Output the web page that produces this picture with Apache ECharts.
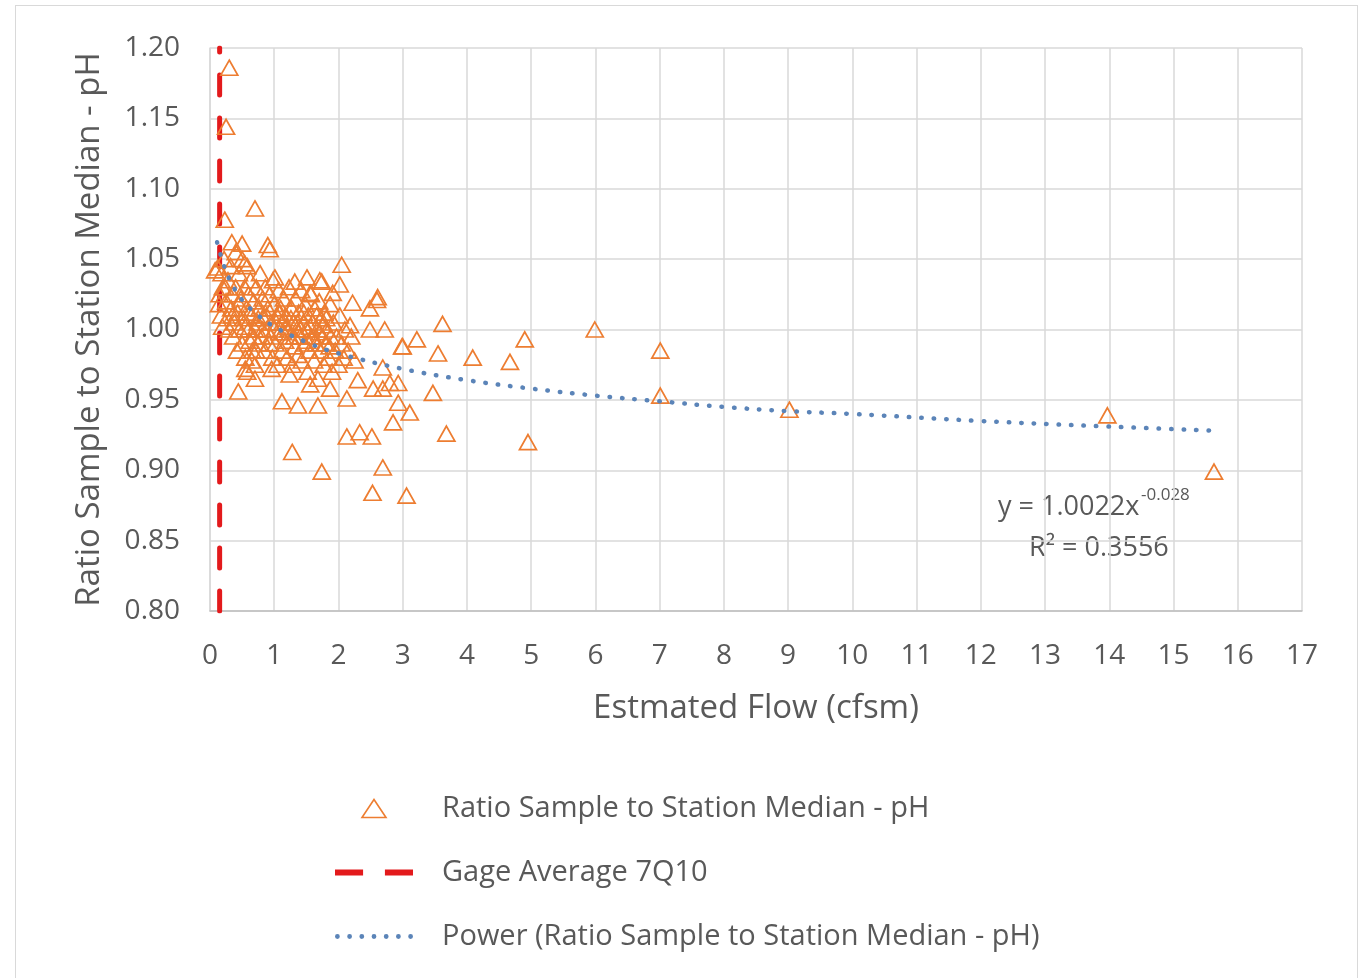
<!DOCTYPE html>
<html><head><meta charset="utf-8">
<script src="https://cdn.jsdelivr.net/npm/echarts@6/dist/echarts.min.js"></script>
<style>
html,body{margin:0;padding:0;background:#fff;}
#frame{position:absolute;left:15px;top:5px;width:1343px;height:990px;border:1.5px solid #d9d9d9;box-sizing:border-box;}
#chart{position:absolute;left:0;top:0;width:1366px;height:978px;}
</style></head>
<body>
<div id="frame"></div>
<div id="chart"></div>
<script>
// Scatter: Estimated flow (cfsm) and ratio of sample to station median pH
const flowX = [
 0.30,0.25,0.23,0.70,0.90,0.93,0.12,0.34,0.50,0.08,0.54,1.01,1.32,1.71,2.05,
 0.18,0.20,0.22,0.25,0.27,0.28,0.30,0.32,0.33,0.35,0.36,0.38,0.40,0.40,0.42,0.43,0.45,0.46,0.48,0.50,
 0.50,0.52,0.54,0.55,0.57,0.58,0.60,0.60,0.62,0.63,0.65,0.66,0.68,0.70,0.70,0.72,0.74,0.75,0.77,0.78,
 0.80,0.82,0.83,0.85,0.86,0.88,0.90,0.92,0.93,0.95,0.97,0.98,1.00,1.00,1.02,1.04,1.05,1.07,1.08,1.10,
 1.12,1.13,1.15,1.17,1.18,1.20,1.22,1.23,1.25,1.27,1.28,1.30,1.32,1.33,1.35,1.37,1.38,1.40,1.42,1.43,
 1.45,1.47,1.48,1.50,1.52,1.53,1.55,1.57,1.58,1.60,1.62,1.63,1.65,1.67,1.68,1.70,1.72,1.73,1.75,1.77,
 1.78,1.80,1.82,1.85,1.87,1.88,1.90,1.92,1.95,1.97,2.00,2.02,2.05,2.08,2.10,2.15,2.20,2.25,
 0.44,0.55,0.65,0.15,0.17,0.19,0.24,0.14,
 2.02,1.74,2.61,2.22,2.49,2.18,2.49,2.72,1.51,1.56,1.91,3.62,5.99,4.90,3.22,3.00,3.55,4.09,4.67,
 7.01,7.01,9.02,13.97,15.63,4.95,3.68,3.47,3.11,2.93,2.85,2.93,3.06,2.53,2.69,1.74,1.28,2.52,2.33,2.13,
 1.12,1.37,1.68,2.13,0.70,2.30,1.56,2.69,1.87,2.54,2.80,2.69,2.99,2.60,
 0.35,0.45,0.55,0.62,0.68,0.75,0.82,0.88,0.95,1.03,1.09,1.14,1.19,1.26,1.31,1.36,1.41,1.46,1.51,1.56,
 1.61,1.66,1.71,1.76,1.81,1.86,0.58,0.72,0.96,1.24
];
const ratioY = [
 1.186,1.144,1.078,1.086,1.060,1.057,1.044,1.062,1.061,1.042,1.047,1.037,1.034,1.035,1.046,
 1.040,1.030,1.050,1.020,1.008,1.035,1.000,1.045,1.015,1.025,0.995,1.005,1.055,1.030,0.985,1.012,1.040,1.000,1.022,0.990,
 1.050,1.008,1.030,0.980,1.015,1.045,1.000,1.025,0.992,1.035,1.010,0.985,1.020,1.000,0.975,1.030,1.005,0.990,1.015,1.040,
 0.995,1.022,1.008,0.985,1.030,1.000,1.015,0.990,1.025,1.005,0.980,1.035,1.000,1.018,0.990,1.010,0.975,1.028,0.998,1.015,
 0.985,1.005,1.022,0.992,1.010,0.980,1.000,1.030,0.995,1.015,0.975,1.005,0.988,1.022,1.000,0.982,1.012,0.995,1.028,0.978,
 1.005,0.990,1.018,1.000,0.970,1.010,0.985,1.025,0.995,1.005,0.978,1.015,0.990,1.000,0.965,1.020,0.985,1.008,0.995,0.975,
 1.012,0.990,1.000,0.980,1.018,0.995,0.970,1.005,0.985,0.995,0.975,1.010,0.990,0.980,1.000,0.985,0.995,0.978,
 0.956,0.972,0.978,1.025,1.010,1.002,1.030,1.018,
 1.032,1.034,1.023,1.019,1.015,1.003,1.000,1.000,1.037,1.026,1.026,1.004,1.000,0.993,0.993,0.988,0.983,0.980,0.977,
 0.985,0.953,0.943,0.939,0.899,0.920,0.926,0.955,0.941,0.948,0.934,0.962,0.882,0.884,0.902,0.899,0.913,0.924,0.927,0.924,
 0.949,0.946,0.946,0.951,0.965,0.964,0.961,0.958,0.958,0.958,0.962,0.973,0.988,1.021,
 1.010,1.018,1.002,1.012,0.995,1.008,1.000,1.010,0.995,1.005,1.012,0.998,1.002,1.008,0.995,1.005,1.000,1.012,0.992,1.002,
 0.995,1.010,0.998,1.003,1.008,0.988,0.970,0.985,0.972,0.968
];
// Power trendline
const trendX = [0.11,0.2,0.3,0.5,0.75,1,1.5,2,3,4,5,6,7,8,9,10,12,14,15.7];
const trendY = [1.062,1.048,1.036,1.021,1.010,1.002,0.991,0.983,0.972,0.964,0.958,0.953,0.949,0.945,0.942,0.940,0.935,0.931,0.928];
// Gage average 7Q10 vertical line (drawn bottom to top)
const gageX = [0.15,0.15];
const gageY = [0.80,1.20];
const xTicks = [0,17,1];
const yTicks = [0.80,1.20,0.05];

const scatterData = flowX.map((x,i)=>[x,ratioY[i]]);
const trendData = trendX.map((x,i)=>[x,trendY[i]]);
const gageData = gageX.map((x,i)=>[x,gageY[i]]);

const FONT = '"Open Sans", Lato, sans-serif';
const GREY = '#595959';
const ORANGE = '#ED7D31';
const RED = '#E31A1C';
const BLUE = '#5B84B8';

// legend icon shapes
const dotPath = 'path://' + [0,1,2,3,4,5,6].map(k => {
  const cx = 2.4 + k*12.2;
  return 'M' + (cx-2.4).toFixed(2) + ',2.4a2.4,2.4 0 1,0 4.8,0a2.4,2.4 0 1,0 -4.8,0z';
}).join(' ');

const chart = echarts.init(document.getElementById('chart'));
chart.setOption({
  backgroundColor: 'transparent',
  animation: false,
  grid: {left: 210, top: 48, width: 1092, height: 563},
  xAxis: {
    type: 'value', min: xTicks[0], max: xTicks[1], interval: xTicks[2],
    name: 'Estmated Flow (cfsm)', nameLocation: 'middle', nameGap: 81,
    nameTextStyle: {fontFamily: FONT, fontSize: 33, color: GREY, verticalAlign: 'top'},
    axisLine: {show: true, lineStyle: {color: '#bfbfbf', width: 1.5}},
    axisTick: {show: false},
    axisLabel: {fontFamily: FONT, fontSize: 28, color: GREY, margin: 31},
    splitLine: {show: true, lineStyle: {color: '#d9d9d9', width: 1.5}}
  },
  yAxis: {
    type: 'value', min: yTicks[0], max: yTicks[1], interval: yTicks[2],
    name: 'Ratio Sample to Station Median - pH', nameLocation: 'middle', nameGap: 104,
    nameTextStyle: {fontFamily: FONT, fontSize: 33, color: GREY},
    axisLine: {show: true, lineStyle: {color: '#d9d9d9', width: 1.5}},
    axisTick: {show: false},
    axisLabel: {fontFamily: FONT, fontSize: 28, color: GREY, margin: 30,
      formatter: v => v.toFixed(2)},
    splitLine: {show: true, lineStyle: {color: '#d9d9d9', width: 1.5}}
  },
  legend: {
    orient: 'vertical', left: 330, top: 789, itemWidth: 78, itemHeight: 18, itemGap: 35,
    textStyle: {fontFamily: FONT, fontSize: 29, color: GREY, padding: [0,0,0,24]},
    data: [
      {name: 'Ratio Sample to Station Median - pH', icon: 'path://M10,0L20,15L0,15Z',
       itemStyle: {color: 'rgba(255,255,255,0)', borderColor: ORANGE, borderWidth: 1.6}},
      {name: 'Gage Average 7Q10', icon: 'path://M0,0h27v6h-27z M48,0h27v6h-27z',
       itemStyle: {color: RED, borderWidth: 0}},
      {name: 'Power (Ratio Sample to Station Median - pH)', icon: dotPath,
       itemStyle: {color: BLUE, borderWidth: 0}}
    ]
  },
  series: [
    {
      name: 'Ratio Sample to Station Median - pH', type: 'scatter',
      data: scatterData, symbol: 'triangle', symbolSize: [17,15],
      itemStyle: {color: 'rgba(255,255,255,0)', borderColor: ORANGE, borderWidth: 1.7, opacity: 1},
      z: 3
    },
    {
      name: 'Gage Average 7Q10', type: 'line', data: gageData, symbol: 'none',
      lineStyle: {color: RED, width: 5, type: [20,23], cap: 'round'},
      itemStyle: {color: RED}, z: 2
    },
    {
      name: 'Power (Ratio Sample to Station Median - pH)', type: 'line', data: trendData,
      symbol: 'none', smooth: 0.4,
      lineStyle: {color: BLUE, width: 4.5, type: [0.5,12], cap: 'round'},
      itemStyle: {color: BLUE}, z: 4
    }
  ],
  graphic: [
    {type: 'text', left: 998, top: 494,
     style: {text: 'y = 1.0022x', font: '27px ' + FONT, fill: GREY}},
    {type: 'text', left: 1141, top: 487,
     style: {text: '-0.028', font: '17px ' + FONT, fill: GREY}},
    {type: 'text', left: 1029, top: 535,
     style: {text: 'R² = 0.3556', font: '27px ' + FONT, fill: GREY}}
  ]
});
</script>
</body></html>
